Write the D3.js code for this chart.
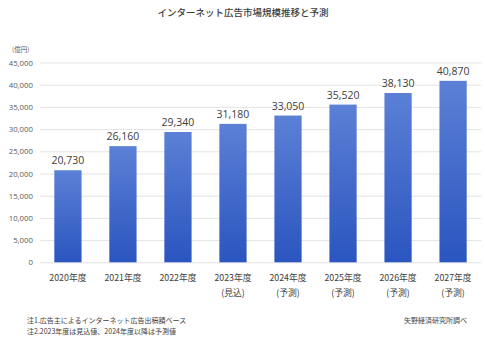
<!DOCTYPE html>
<html><head><meta charset="utf-8">
<script src="https://cdn.jsdelivr.net/npm/d3@7"></script>
<style>body{margin:0;background:#fff}svg{display:block}</style>
</head><body>
<script>
const categories = ["2020年度","2021年度","2022年度","2023年度","2024年度","2025年度","2026年度","2027年度"];
const subLabels = ["","","","(見込)","(予測)","(予測)","(予測)","(予測)"];
const values = [20730,26160,29340,31180,33050,35520,38130,40870];
const yTicks = [0,5000,10000,15000,20000,25000,30000,35000,40000,45000];
const title = "インターネット広告市場規模推移と予測";
const unitLabel = "(億円)";
const notes = ["注1.広告主によるインターネット広告出稿額ベース","注2.2023年度は見込値、2024年度以降は予測値"];
const source = "矢野経済研究所調べ";

const W=485,H=338;
const font = "'Noto Sans CJK JP','Noto Sans',sans-serif";
const svg = d3.select("body").append("svg").attr("width",W).attr("height",H).style("font-family",font);
const defs = svg.append("defs");
const g = defs.append("linearGradient").attr("id","bg").attr("x1",0).attr("y1",0).attr("x2",0).attr("y2",1);
g.append("stop").attr("offset","0%").attr("stop-color","#5b80d6");
g.append("stop").attr("offset","100%").attr("stop-color","#2b55bf");

const x = d3.scaleBand().domain(categories).range([40,481]).paddingInner(0.505).paddingOuter(0.26);
const y = d3.scaleLinear().domain([0,45000]).range([262.3,62.5]);

svg.append("text").attr("x",243).attr("y",16).attr("text-anchor","middle").attr("font-size",9.5).attr("font-weight",500).attr("fill","#404040").text(title);
svg.append("text").attr("x",12).attr("y",52).attr("font-size",6.5).attr("fill","#595959").text(unitLabel);

const ga = svg.append("g").attr("transform","translate(40,0)");
ga.call(d3.axisLeft(y).tickValues(yTicks).tickSize(-441).tickFormat(d3.format(",")).tickPadding(7));
ga.select(".domain").remove();
ga.selectAll(".tick line").attr("stroke","#e3e3e3").attr("stroke-width",1);
ga.selectAll(".tick text").attr("font-size",7.8).attr("fill","#595959").attr("font-family","'Open Sans',sans-serif");

svg.append("g").selectAll("rect").data(values).join("rect")
 .attr("x",(d,i)=>x(categories[i])).attr("width",x.bandwidth())
 .attr("y",d=>y(d)).attr("height",d=>y(0)-y(d)).attr("fill","url(#bg)");

svg.append("g").selectAll("text").data(values).join("text")
 .attr("x",(d,i)=>x(categories[i])+x.bandwidth()/2).attr("y",d=>y(d)-6)
 .attr("text-anchor","middle").attr("font-size",10.5).attr("fill","#404040").attr("font-family","'Open Sans',sans-serif")
 .text(d=>d3.format(",")(d));

const xl = svg.append("g");
xl.selectAll("text.c").data(categories).join("text").attr("class","c")
 .attr("x",d=>x(d)+x.bandwidth()/2).attr("y",281).attr("text-anchor","middle").attr("font-size",8.8).attr("fill","#404040").text(d=>d);
xl.selectAll("text.s").data(subLabels).join("text").attr("class","s")
 .attr("x",(d,i)=>x(categories[i])+x.bandwidth()/2).attr("y",296).attr("text-anchor","middle").attr("font-size",8.8).attr("fill","#404040").text(d=>d);

svg.append("g").selectAll("text").data(notes).join("text")
 .attr("x",27).attr("y",(d,i)=>323+i*10.5).attr("font-size",7).attr("fill","#404040").text(d=>d);
svg.append("text").attr("x",467).attr("y",323).attr("text-anchor","end").attr("font-size",7).attr("fill","#404040").text(source);
</script>
</body></html>
